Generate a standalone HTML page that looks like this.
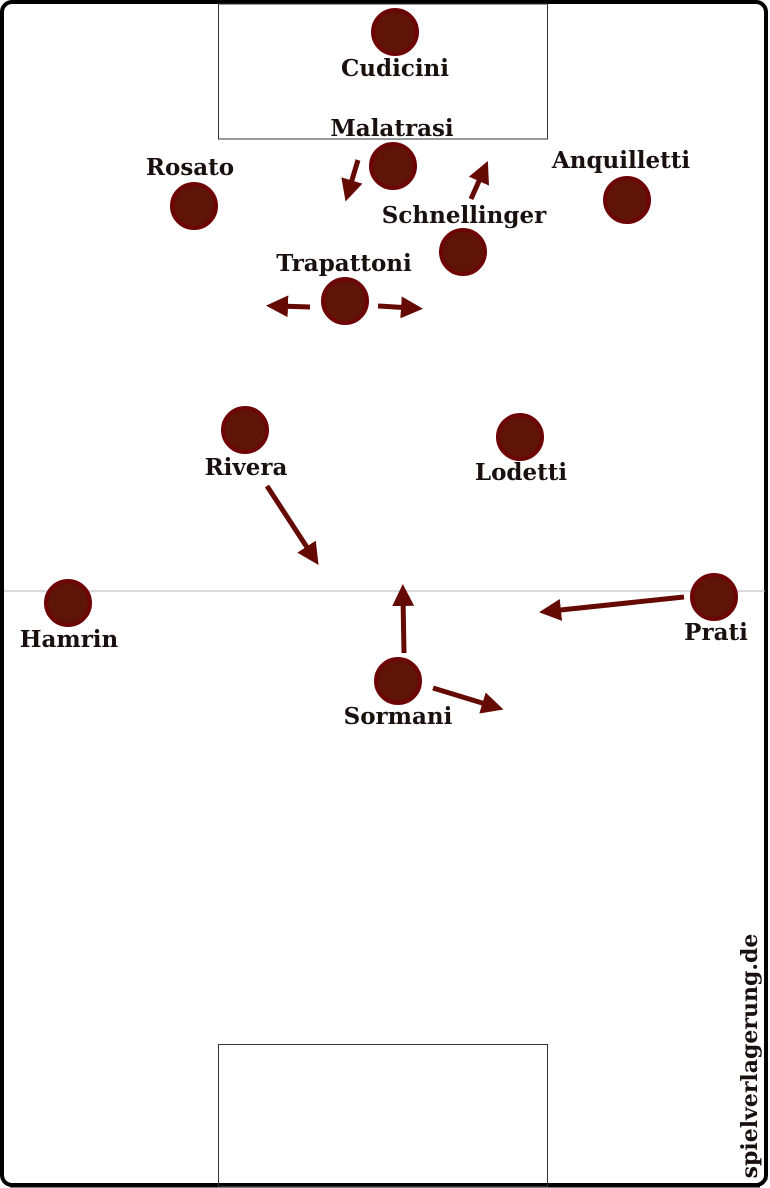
<!DOCTYPE html>
<html><head><style>
html,body{margin:0;padding:0;background:#fff;}
svg{display:block;}
text{font-family:"DejaVu Serif","Liberation Serif",serif;font-weight:bold;font-size:23px;fill:#1a1010;}
</style></head><body>
<svg width="770" height="1188" viewBox="0 0 770 1188" xmlns="http://www.w3.org/2000/svg">
<defs>
<marker id="a" markerWidth="4.4" markerHeight="4.4" refX="2" refY="2.2" orient="auto" markerUnits="strokeWidth">
<path d="M0,0 L4.4,2.2 L0,4.4 Z" fill="#650a03"/>
</marker>
</defs>
<rect x="2" y="2" width="764" height="1183" rx="10" fill="#fff" stroke="#000" stroke-width="4"/>
<line x1="766" y1="10" x2="766" y2="1180" stroke="#000" stroke-width="3"/>
<line x1="10" y1="1186" x2="760" y2="1186" stroke="#000" stroke-width="3"/>
<line x1="4" y1="591" x2="765" y2="591" stroke="#b5b5b5" stroke-width="1"/>
<rect x="218.5" y="4" width="329" height="135" fill="none" stroke="#333" stroke-width="1"/>
<rect x="218.5" y="1044.5" width="329" height="142" fill="none" stroke="#333" stroke-width="1"/>
<g fill="#5e1406" stroke="#6d0405" stroke-width="4">
<circle cx="395" cy="32" r="22"/>
<circle cx="393" cy="166" r="22"/>
<circle cx="194" cy="206" r="22"/>
<circle cx="627" cy="200" r="22"/>
<circle cx="463" cy="252" r="22"/>
<circle cx="345" cy="301" r="22"/>
<circle cx="245" cy="430" r="22"/>
<circle cx="520" cy="437" r="22"/>
<circle cx="68" cy="603" r="22"/>
<circle cx="714" cy="597" r="22"/>
<circle cx="398" cy="681" r="22"/>
</g>
<g stroke="#650a03" stroke-width="5" fill="none" marker-end="url(#a)">
<line x1="358" y1="160" x2="349" y2="190"/>
<line x1="471" y1="199" x2="483" y2="172"/>
<line x1="310" y1="307" x2="278" y2="306"/>
<line x1="378" y1="306" x2="411" y2="308"/>
<line x1="267" y1="486" x2="312" y2="555"/>
<line x1="404" y1="653" x2="403" y2="596"/>
<line x1="433" y1="688" x2="492" y2="706"/>
<line x1="684" y1="597" x2="551" y2="611"/>
</g>
<g text-anchor="middle">
<text x="395" y="76">Cudicini</text>
<text x="392" y="136">Malatrasi</text>
<text x="190" y="175">Rosato</text>
<text x="621" y="168">Anquilletti</text>
<text x="464" y="223">Schnellinger</text>
<text x="344" y="271">Trapattoni</text>
<text x="246" y="475">Rivera</text>
<text x="521" y="480">Lodetti</text>
<text x="69" y="647">Hamrin</text>
<text x="716" y="640">Prati</text>
<text x="398" y="724">Sormani</text>
</g>
<text x="0" y="0" text-anchor="middle" style="font-size:22px" transform="translate(757,1056) rotate(-90)">spielverlagerung.de</text>
</svg>
</body></html>
